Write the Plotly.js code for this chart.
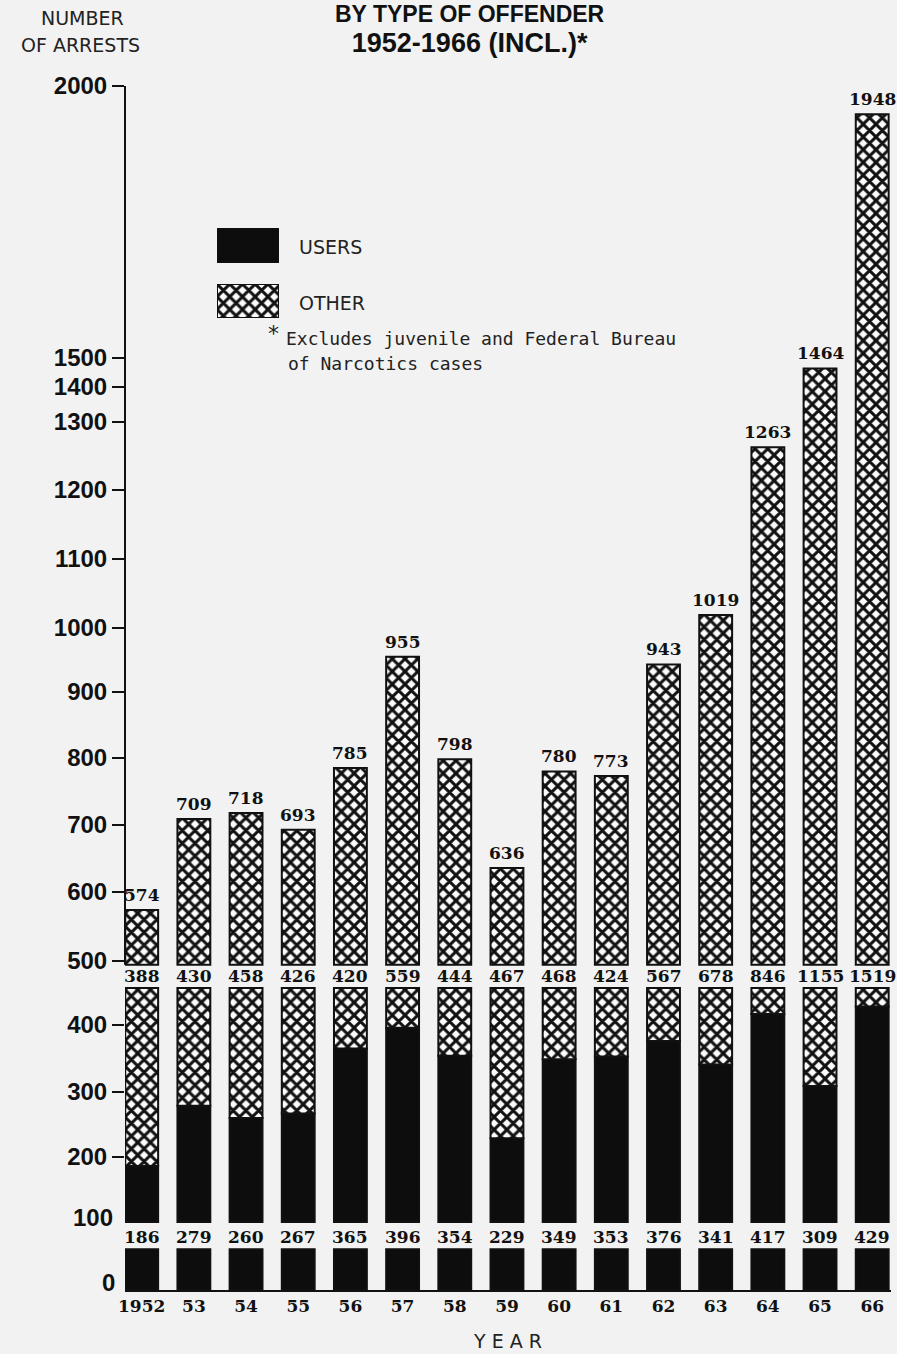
<!DOCTYPE html>
<html>
<head>
<meta charset="utf-8">
<script src="https://cdn.plot.ly/plotly-3.0.1.min.js"></script>
<style>html,body{margin:0;padding:0;background:#f2f2f2;}#chart{width:897px;height:1354px;}</style>
</head>
<body>
<div id="chart"></div>
<script>
// ---------------- DATA ----------------
const years = [1952,1953,1954,1955,1956,1957,1958,1959,1960,1961,1962,1963,1964,1965,1966];
const yearLabels = ['1952','53','54','55','56','57','58','59','60','61','62','63','64','65','66'];
const users  = [186,279,260,267,365,396,354,229,349,353,376,341,417,309,429];
const other  = [388,430,458,426,420,559,444,467,468,424,567,678,846,1155,1519];
const totals = [574,709,718,693,785,955,798,636,780,773,943,1019,1263,1464,1948];
const tickValues = [0,100,200,300,400,500,600,700,800,900,1000,1100,1200,1300,1400,1500,2000];
const tickLabels = ['0','100','200','300','400','500','600','700','800','900','1000','1100','1200','1300','1400','1500','2000'];

// ---------------- SCALE (hand-drawn, non-uniform axis) ----------------
const W = 897, H = 1354;
const M = {l:125, r:6, t:86, b:64};
const plotW = W - M.l - M.r, plotH = H - M.t - M.b;
// pixel row of each tick value on the drawn axis
const axisKnotPixels = [1290,1222,1157,1092,1025,961,892,825,758,692,628,559,490,422,387,358,86];
function f(v){
  let i = 0;
  while (i < tickValues.length - 2 && v > tickValues[i+1]) i++;
  const v0 = tickValues[i], v1 = tickValues[i+1];
  const p0 = axisKnotPixels[i], p1 = axisKnotPixels[i+1];
  const pix = p0 + (v - v0) / (v1 - v0) * (p1 - p0);
  return (H - M.b) - pix;
}
// broken-axis band limits (in axis values)
const LOW_TOP = 60, MID_BASE = 100, MID_TOP = 458, UP_BASE = 494;
const USER_LABEL_AT = 78, OTHER_LABEL_AT = 476;

function paperX(px){ return (px - M.l) / plotW; }
function paperY(py){ return (H - M.b - py) / plotH; }

// ---------------- STYLE ----------------
const BAR_W = 0.63;
const hatch = {shape:'x', size:9, solidity:0.55, fgcolor:'#111', bgcolor:'#fbfbfb', fillmode:'replace'};
const outline = {color:'#111', width:2};
const serif = {family:'DejaVu Serif', size:17, color:'#111', weight:'bold'};
const tickFont = {family:'Liberation Sans, Arial, sans-serif', size:24, color:'#111', weight:'bold'};
const sans = {family:'DejaVu Sans, sans-serif', size:19, color:'#222'};
const mono = {family:'DejaVu Sans Mono, monospace', size:18, color:'#222'};
const titleFont = {family:'Liberation Sans, Arial, sans-serif', size:23, color:'#111', weight:'bold'};

function barTrace(baseFn, topFn, black){
  const base = years.map((y,i)=>baseFn(i));
  const len = years.map((y,i)=>topFn(i) - baseFn(i));
  const t = {type:'bar', x:years, y:len, base:base, width:BAR_W,
    marker:{color: black ? '#0d0d0d' : '#fbfbfb', line:outline},
    hoverinfo:'skip', showlegend:false, cliponaxis:false};
  if (!black) t.marker.pattern = hatch;
  return t;
}

const traces = [
  barTrace(i=>f(0), i=>f(LOW_TOP), true),
  barTrace(i=>f(MID_BASE), i=>f(users[i]), true),
  barTrace(i=>f(users[i]), i=>f(MID_TOP), false),
  barTrace(i=>f(UP_BASE), i=>f(totals[i]), false),
  // legend swatches
  {type:'bar', x:[0], y:[1], width:1, xaxis:'x3', yaxis:'y3', marker:{color:'#0d0d0d', line:outline}, hoverinfo:'skip', showlegend:false, cliponaxis:false},
  {type:'bar', x:[0], y:[1], width:1, xaxis:'x4', yaxis:'y4', marker:{color:'#fbfbfb', line:outline, pattern:hatch}, hoverinfo:'skip', showlegend:false, cliponaxis:false}
];

const annotations = [];
years.forEach((y,i)=>{
  annotations.push({x:y, y:f(totals[i]), xref:'x', yref:'y', text:String(totals[i]), showarrow:false, yanchor:'bottom', yshift:3, font:serif});
  annotations.push({x:y, y:f(OTHER_LABEL_AT), xref:'x', yref:'y', text:String(other[i]), showarrow:false, yanchor:'middle', font:serif});
  annotations.push({x:y, y:f(USER_LABEL_AT), xref:'x', yref:'y', text:String(users[i]), showarrow:false, yanchor:'middle', font:serif});
});
// unticked labels of the lowest band
[0,100].forEach(v=>{
  annotations.push({xref:'paper', yref:'y', x:0, y:f(v), text:tickLabels[tickValues.indexOf(v)], showarrow:false,
    xanchor:'right', yanchor:'middle', xshift: v===0 ? -8 : -10, yshift: v===0 ? 8 : 5, font:tickFont});
});
annotations.push(
  {xref:'paper', yref:'paper', x:paperX(470), y:paperY(0), text:'BY TYPE OF OFFENDER<br><span style="font-size:27px">1952-1966 (INCL.)*</span>', showarrow:false, xanchor:'center', yanchor:'top', align:'center', borderpad:0, font:titleFont},
  {xref:'paper', yref:'paper', x:paperX(82), y:paperY(18), text:'NUMBER', showarrow:false, xanchor:'center', yanchor:'middle', font:sans},
  {xref:'paper', yref:'paper', x:paperX(80), y:paperY(45), text:'OF ARRESTS', showarrow:false, xanchor:'center', yanchor:'middle', font:sans},
  {xref:'paper', yref:'paper', x:paperX(297), y:paperY(247), text:'USERS', showarrow:false, xanchor:'left', yanchor:'middle', font:sans},
  {xref:'paper', yref:'paper', x:paperX(297), y:paperY(303), text:'OTHER', showarrow:false, xanchor:'left', yanchor:'middle', font:sans},
  {xref:'paper', yref:'paper', x:paperX(266), y:paperY(333), text:'*', showarrow:false, xanchor:'left', yanchor:'middle', font:{family:'DejaVu Sans', size:22, color:'#222'}},
  {xref:'paper', yref:'paper', x:paperX(284), y:paperY(338), text:'Excludes juvenile and Federal Bureau', showarrow:false, xanchor:'left', yanchor:'middle', font:mono},
  {xref:'paper', yref:'paper', x:paperX(286), y:paperY(363), text:'of Narcotics cases', showarrow:false, xanchor:'left', yanchor:'middle', font:mono}
);

const upperTicks = tickValues.filter(v=>v>=200);
const layout = {
  width:W, height:H, margin:M,
  paper_bgcolor:'#f2f2f2', plot_bgcolor:'rgba(0,0,0,0)',
  barmode:'overlay',
  xaxis:{range:[1951.68,1966.36], tickvals:years, ticktext:yearLabels, ticks:'', showgrid:false, zeroline:false,
         showline:true, linecolor:'#111', linewidth:2, tickfont:serif, fixedrange:true,
         title:{text:'Y E A R', font:sans, standoff:19}},
  yaxis:{range:[0,plotH], tickvals:upperTicks.map(f), ticktext:upperTicks.map(v=>tickLabels[tickValues.indexOf(v)]),
         ticks:'outside', ticklen:12, tickwidth:2, tickcolor:'#111', showline:false, showgrid:false, zeroline:false,
         tickfont:tickFont, fixedrange:true},
  xaxis3:{domain:[paperX(217),paperX(279)], anchor:'y3', range:[-0.5,0.5], visible:false, fixedrange:true},
  yaxis3:{domain:[paperY(263),paperY(228)], anchor:'x3', range:[0,1], visible:false, fixedrange:true},
  xaxis4:{domain:[paperX(217),paperX(279)], anchor:'y4', range:[-0.5,0.5], visible:false, fixedrange:true},
  yaxis4:{domain:[paperY(318),paperY(284)], anchor:'x4', range:[0,1], visible:false, fixedrange:true},
  shapes:[{type:'line', xref:'paper', yref:'y', x0:0, x1:0, y0:f(UP_BASE), y1:f(2000), line:{color:'#111', width:2}}],
  annotations:annotations
};
Plotly.newPlot('chart', traces, layout, {staticPlot:true, displayModeBar:false});
</script>
</body>
</html>
